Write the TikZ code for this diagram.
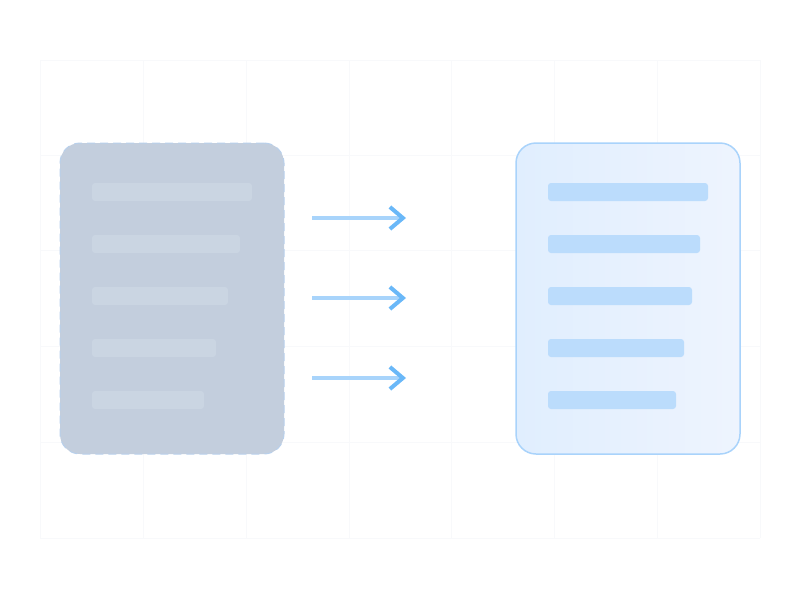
\documentclass[tikz,border=0pt]{standalone}
\usetikzlibrary{arrows.meta}
\definecolor{grid}{HTML}{F8F9FB}
\definecolor{lcard}{HTML}{C3CEDD}
\definecolor{lbar}{HTML}{CAD5E2}
\definecolor{ldash}{HTML}{B8D0EC}
\definecolor{rcardA}{HTML}{E0EEFE}
\definecolor{rcardB}{HTML}{EEF4FE}
\definecolor{rborder}{HTML}{A9D3FB}
\definecolor{rbar}{HTML}{BBDCFC}
\definecolor{aline}{HTML}{A8D4FB}
\definecolor{ahead}{HTML}{6AB8F8}
\tikzset{
  gridline/.style={grid,line width=0.8pt},
  lbarst/.style={fill=lbar,rounded corners=3pt},
  rbarst/.style={fill=rbar,rounded corners=3pt},
  arr/.style={aline,line width=3.5pt,-{Straight Barb[length=13pt,width=22pt,line width=4pt,ahead]}},
}
\begin{document}
\begin{tikzpicture}[x=1pt,y=-1pt]
\useasboundingbox (0,0) rectangle (800,600);
\foreach \y in {60,155,250,346,442,538} \draw[gridline] (40,\y) -- (760,\y);
\foreach \x in {40,143,246,349,451,554,657,760} \draw[gridline] (\x,60) -- (\x,538);
\node[draw=ldash,dash pattern=on 8pt off 5pt,line width=1pt,fill=lcard,rounded corners=20pt,minimum width=224pt,minimum height=311pt,inner sep=0pt] (L) at (172,298.5) {};
\foreach \w [count=\i] in {252,240,228,216,204}
  \fill[lbarst] (92,{192+52*(\i-1)-9}) rectangle (\w,{192+52*(\i-1)+9});
\node[draw=rborder,line width=1.5pt,left color=rcardA,right color=rcardB,rounded corners=20pt,minimum width=224pt,minimum height=311pt,inner sep=0pt] (R) at (628,298.5) {};
\foreach \w [count=\i] in {708,700,692,684,676}
  \fill[rbarst] (548,{192+52*(\i-1)-9}) rectangle (\w,{192+52*(\i-1)+9});
\foreach \y [count=\i] in {218,298,378}{
  \coordinate (s\i) at (312,\y); \coordinate (e\i) at (406,\y);
  \draw[arr] (s\i) -- (e\i);}
\end{tikzpicture}
\end{document}
